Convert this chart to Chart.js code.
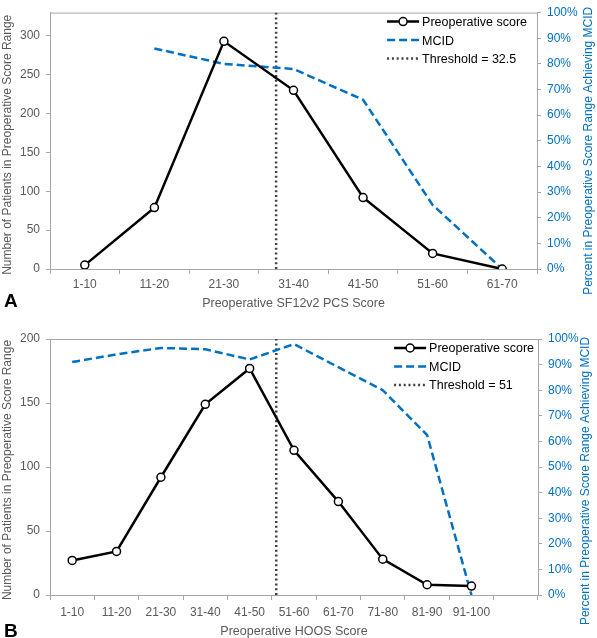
<!DOCTYPE html>
<html>
<head>
<meta charset="utf-8">
<script src="https://cdn.jsdelivr.net/npm/chart.js@4/dist/chart.umd.min.js"></script>
<style>
  body { margin: 0; background: #fff; font-family: "Liberation Sans", Arial, sans-serif; }
  .panel { position: relative; width: 597px; }
  .tag { position: absolute; left: 4px; font-weight: bold; font-size: 19px; color: #000; }
</style>
</head>
<body>
<div class="panel" style="height:310px">
  <canvas id="chartA" width="597" height="310"></canvas>
  <div class="tag" style="top:290px">A</div>
</div>
<div class="panel" style="height:328px">
  <canvas id="chartB" width="597" height="328"></canvas>
  <div class="tag" style="top:310px">B</div>
</div>
<script>
// Panel A data (SF12v2 PCS)
let rangesA = ["1-10", "11-20", "21-30", "31-40", "41-50", "51-60", "61-70"];
let patientsA = [5, 79, 293, 230, 92, 20, 0];
let mcidA = [null, 86, 80, 78, 66, 25, 0];
let thresholdA = 32.5;

// Panel B data (HOOS)
let rangesB = ["1-10", "11-20", "21-30", "31-40", "41-50", "51-60", "61-70", "71-80", "81-90", "91-100", ""];
let patientsB = [27, 34, 92, 149, 177, 113, 73, 28, 8, 7, null];
let mcidB = [91, 94, 96.5, 96, 92, 98, 89, 80, 62.5, 0, null];
let thresholdB = 51;

let grayText = "#595959";
let blue = "#0070C0";
let axisGray = "#a6a6a6";
let font = '"Liberation Sans", Arial, sans-serif';

// Draws the legend inside the top right of the plot area
let insideLegend = {
    id: "insideLegend",
    afterDraw(chart, args, opts) {
        let ctx = chart.ctx;
        let area = chart.chartArea;
        let items = chart.data.datasets;
        ctx.save();
        ctx.font = "12.5px " + font;
        let textW = Math.max(...items.map(d => ctx.measureText(d.label).width));
        let sample = 32;
        let x0 = area.right - opts.right - textW - sample - 3;
        items.forEach((d, i) => {
            let y = area.top + opts.top + i * 18.5;
            ctx.strokeStyle = d.borderColor;
            ctx.lineWidth = d.borderWidth;
            ctx.setLineDash(d.borderDash || []);
            ctx.beginPath();
            ctx.moveTo(x0, y);
            ctx.lineTo(x0 + sample, y);
            ctx.stroke();
            ctx.setLineDash([]);
            if (d.pointRadius > 0) {
                ctx.beginPath();
                ctx.arc(x0 + sample / 2, y, d.pointRadius, 0, Math.PI * 2);
                ctx.fillStyle = "#fff";
                ctx.fill();
                ctx.lineWidth = d.pointBorderWidth;
                ctx.stroke();
            }
            ctx.fillStyle = "#000";
            ctx.textBaseline = "middle";
            ctx.fillText(d.label, x0 + sample + 3, y + 1);
        });
        ctx.restore();
    }
};

// Box around the plot area
let plotBox = {
    id: "plotBox",
    beforeDatasetsDraw(chart) {
        let ctx = chart.ctx;
        let a = chart.chartArea;
        ctx.save();
        ctx.strokeStyle = axisGray;
        ctx.lineWidth = 1;
        ctx.strokeRect(a.left + 0.5, a.top + 0.5, a.right - a.left, a.bottom - a.top);
        ctx.restore();
    }
};

// Both vertical axis titles, read bottom to top
let sideTitles = {
    id: "sideTitles",
    afterDraw(chart, args, opts) {
        let ctx = chart.ctx;
        let mid = (chart.chartArea.top + chart.chartArea.bottom) / 2;
        ctx.save();
        ctx.font = "12px " + font;
        ctx.textAlign = "center";
        ctx.textBaseline = "middle";
        [[opts.leftX, opts.leftDy, grayText, opts.leftText], [chart.width - opts.rightX, opts.rightDy, blue, opts.rightText]].forEach(t => {
            ctx.save();
            ctx.translate(t[0], mid + t[1]);
            ctx.rotate(-Math.PI / 2);
            ctx.fillStyle = t[2];
            ctx.fillText(t[3], 0, 0);
            ctx.restore();
        });
        ctx.restore();
    }
};

function makeChart(canvasId, labels, patients, mcid, threshold, thresholdText, yMax, layout) {
    return new Chart(document.getElementById(canvasId), {
        type: "line",
        data: {
            labels: labels,
            datasets: [
                {
                    label: "Preoperative score",
                    data: patients,
                    yAxisID: "y",
                    borderColor: "#000",
                    borderWidth: 2.5,
                    pointRadius: 4,
                    pointBorderWidth: 1.5,
                    pointBackgroundColor: "#fff",
                    pointBorderColor: "#000",
                    tension: 0
                },
                {
                    label: "MCID",
                    data: mcid,
                    yAxisID: "y1",
                    borderColor: blue,
                    borderWidth: 2.5,
                    borderDash: [8, 4],
                    pointRadius: 0,
                    tension: 0
                },
                {
                    label: thresholdText,
                    data: [{ x: threshold, y: 0 }, { x: threshold, y: yMax }],
                    xAxisID: "xt",
                    yAxisID: "y",
                    borderColor: "#404040",
                    borderWidth: 2.5,
                    borderDash: [2, 2.8],
                    pointRadius: 0
                }
            ]
        },
        options: {
            responsive: false,
            animation: false,
            devicePixelRatio: 1,
            layout: { padding: { top: layout.top, left: 0, right: 0, bottom: 0 } },
            plugins: {
                legend: { display: false },
                tooltip: { enabled: false },
                insideLegend: { top: 9, right: layout.legendRight },
                sideTitles: {
                    leftText: "Number of Patients in Preoperative Score Range", leftX: 8, leftDy: layout.leftDy,
                    rightText: "Percent in Preoperative Score Range Achieving MCID", rightX: layout.rightX, rightDy: layout.rightDy
                }
            },
            scales: {
                x: {
                    offset: true,
                    grid: { display: true, drawOnChartArea: false, offset: true, tickLength: 5, color: axisGray },
                    border: { color: axisGray },
                    ticks: { color: grayText, font: { family: font, size: 12 }, padding: layout.xPad, maxRotation: 0, autoSkip: false },
                    title: { display: true, text: layout.xTitle, color: grayText, font: { family: font, size: 12.5, lineHeight: 1 }, padding: 0 },
                    afterFit: s => { s.height = layout.xHeight; }
                },
                xt: {
                    type: "linear",
                    display: false,
                    min: 0,
                    max: labels.length * 10
                },
                y: {
                    position: "left",
                    min: 0,
                    max: yMax,
                    grid: { display: true, drawOnChartArea: false, tickLength: 4, color: axisGray },
                    border: { display: true, color: axisGray },
                    ticks: { stepSize: 50, color: grayText, font: { family: font, size: 12, lineHeight: 1.1 }, padding: 6 },
                    afterBuildTicks: s => { s.ticks = s.ticks.filter(t => t.value % 50 === 0); },
                    afterFit: s => { s.width = 50; }
                },
                y1: {
                    position: "right",
                    min: 0,
                    max: 100,
                    grid: { display: true, drawOnChartArea: false, tickLength: 4, color: axisGray },
                    border: { display: true, color: axisGray },
                    ticks: { stepSize: 10, color: blue, font: { family: font, size: 12, lineHeight: 1.1 }, padding: 6, callback: v => v + "%" },
                    afterFit: s => { s.width = layout.rightWidth; }
                }
            }
        },
        plugins: [plotBox, insideLegend, sideTitles]
    });
}

makeChart("chartA", rangesA, patientsA, mcidA, thresholdA, "Threshold = 32.5", 330,
    { top: 0, xHeight: 41, xPad: 3, rightWidth: 60, legendRight: 10, leftDy: 4, rightX: 8, rightDy: 10,
      xTitle: "Preoperative SF12v2 PCS Score" });
makeChart("chartB", rangesB, patientsB, mcidB, thresholdB, "Threshold = 51", 200,
    { top: 29, xHeight: 43, xPad: 5, rightWidth: 59, legendRight: 4, leftDy: 3, rightX: 11, rightDy: 14,
      xTitle: "Preoperative HOOS Score" });
</script>
</body>
</html>
